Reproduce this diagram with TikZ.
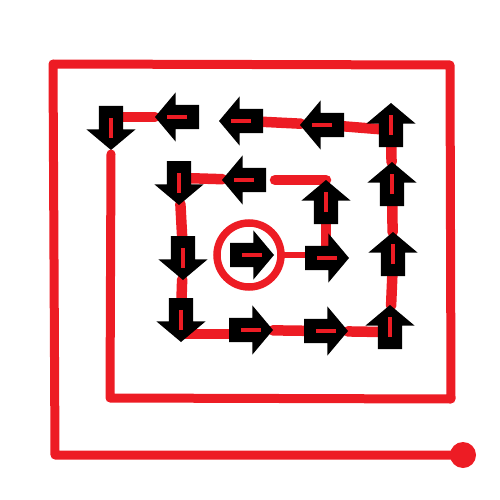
\documentclass[tikz,border=0pt]{standalone}
\usetikzlibrary{shapes.arrows,calc,backgrounds}
\definecolor{paintred}{HTML}{ED1C24}

\begin{document}
\begin{tikzpicture}[x=1pt, y=-1pt,
	blk/.style={single arrow, fill=black, inner sep=12pt, outer sep=0pt, anchor=tip, minimum height=44pt, single arrow head extend=12.5pt, single arrow tip angle=100},
	link/.style={paintred, line width=10.5pt, line cap=round},
	wall/.style={paintred, line width=9pt, line cap=round, line join=round},
	dashin/.style={paintred, line width=4pt}]
	\useasboundingbox (0,0) rectangle (500,500);
	% the block arrows, placed by their tips
	\node[blk, shape border rotate=270] (a1) at (111,150) {};
	\node[blk, shape border rotate=180] (a2) at (155,117) {};
	\node[blk, shape border rotate=180] (a3) at (219,121) {};
	\node[blk, shape border rotate=180] (a4) at (300,125) {};
	\node[blk, shape border rotate=90] (a5) at (391,103) {};
	\node[blk, shape border rotate=90] (a6) at (392,162) {};
	\node[blk, shape border rotate=90] (a7) at (393,232) {};
	\node[blk, shape border rotate=90] (a8) at (390,305) {};
	\node[blk] (a9) at (348,331) {};
	\node[blk] (a10) at (273,330) {};
	\node[blk, shape border rotate=270] (a11) at (181,342) {};
	\node[blk, shape border rotate=270] (a12) at (183,280) {};
	\node[blk, shape border rotate=270] (a13) at (179,205) {};
	\node[blk, shape border rotate=180] (a14) at (222,180) {};
	\node[blk, shape border rotate=90] (a15) at (326,180) {};
	\node[blk] (a16) at (349,258) {};
	\node[blk] (a17) at (274,255) {};
	\node[circle, draw=paintred, line width=7.5pt, minimum size=64pt, inner sep=0pt] (ring) at (249,255) {};
	\node[circle, fill=paintred, minimum size=26pt, inner sep=0pt] (start) at (463,455) {};
	% red marks inside each arrow
	\foreach \a in {a1,a2,a3,a4,a5,a6,a7,a8,a9,a10,a11,a12,a13,a14,a15,a16,a17}
		\draw[dashin] ($(\a.tail)!0.27!(\a.tip)$) -- ($(\a.tail)!0.73!(\a.tip)$);
	% outer spiral
	\draw[wall] (start.center) -- (55,455) -- (53,64) -- (450,65) -- (451,399) -- (110,398) -- ([yshift=-4pt]a1.tip);
	\begin{scope}[on background layer]
		\draw[link] (a2) -- (a2 -| a1);
		\draw[link] (a4) -- (a3);
		\draw[link] (a5) -- (a4);
		\draw[link] (a6) -- (a5);
		\draw[link] (a7) -- (a6);
		\draw[link] (a8) -- (a7);
		\draw[link] (a9) -- (a8);
		\draw[link] (a10) -- (a9);
		\draw[link] ([yshift=-4pt]a10.center) -- ([yshift=-4pt]a10.center -| a11);
		\draw[link] (a12) -- (a11);
		\draw[link] (a13) -- (a12);
		\draw[link] (a14) -- (a13);
		\draw[link, shorten >=9pt] (a15.tip) -- (a15.tip -| a14.tail);
		\draw[link] (a15) -- (a15 |- a16);
		\draw[link, line width=6.5pt] (ring.east) -- (ring.east -| a16.tail);
	\end{scope}
\end{tikzpicture}
\end{document}
